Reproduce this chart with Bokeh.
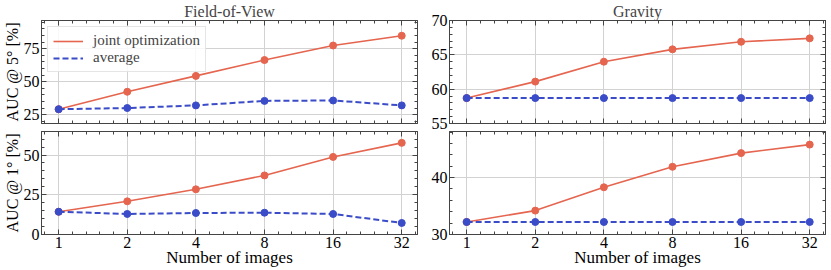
import math
from bokeh.plotting import figure
from bokeh.models import (Range1d, FixedTicker, LogAxis, LinearAxis, NumeralTickFormatter,
                          SingleIntervalTicker, Legend, LegendItem)
from bokeh.layouts import column, row
from bokeh.embed import file_html
from bokeh.resources import INLINE

# ---- data ----
n_images = [1, 2, 4, 8, 16, 32]
x_tick_labels = ["1", "2", "4", "8", "16", "32"]

fov5_joint = [29.2, 42.4, 54.4, 66.4, 77.4, 84.8]
fov5_avg = [29.2, 30.1, 32.1, 35.5, 35.8, 32.1]
fov1_joint = [14.1, 20.7, 28.3, 37.1, 48.8, 57.7]
fov1_avg = [14.1, 12.7, 13.3, 13.5, 12.7, 7.0]
grav5_joint = [58.7, 61.1, 64.0, 65.8, 66.9, 67.4]
grav5_avg = [58.7, 58.7, 58.7, 58.7, 58.7, 58.7]
grav1_joint = [32.2, 34.2, 38.3, 41.9, 44.3, 45.8]
grav1_avg = [32.2, 32.2, 32.2, 32.2, 32.2, 32.2]

RED = "#E5654F"
BLUE = "#3B4CC8"
FONT = "Liberation Serif"
EDGE = "#444444"
GRID = "#d2d2d2"

x_minor = [2 ** (k / 5) for k in range(-1, 27)]


def style_axis(ax, show_labels):
    ax.major_tick_in = 5
    ax.major_tick_out = 0
    ax.minor_tick_in = 3
    ax.minor_tick_out = 0
    ax.axis_line_color = EDGE
    ax.major_tick_line_color = EDGE
    ax.minor_tick_line_color = EDGE
    ax.major_label_text_font = FONT
    ax.major_label_text_color = "black"
    ax.axis_label_text_font = FONT
    ax.axis_label_text_font_style = "normal"
    ax.axis_label_text_font_size = "16px"
    ax.axis_label_text_color = "black"
    if show_labels:
        ax.major_label_text_font_size = "16px"
        ax.major_label_standoff = 2
        ax.axis_label_standoff = 0
    else:
        ax.major_label_text_font_size = "0px"
        ax.major_label_standoff = 0
        ax.major_label_text_alpha = 0


def make_fig(title, ylabel, yr, yint, joint, avg, bottom, fw,
             mb_left, mb_right, mb_top, mb_bottom, legend=False):
    p = figure(frame_width=fw, frame_height=103, x_axis_type="log",
               x_range=Range1d(2 ** -0.25, 2 ** 5.23), y_range=Range1d(*yr),
               output_backend="svg", toolbar_location=None, title=title,
               min_border_left=mb_left, min_border_right=mb_right,
               min_border_top=mb_top, min_border_bottom=mb_bottom)
    xt = FixedTicker(ticks=n_images, minor_ticks=x_minor)
    yt = SingleIntervalTicker(interval=yint, num_minor_ticks=5)
    p.xaxis.ticker = xt
    p.xaxis.formatter = NumeralTickFormatter(format="0")
    p.xaxis.major_label_overrides = {v: s for v, s in zip(n_images, x_tick_labels)}
    p.yaxis.ticker = yt
    p.xgrid.ticker = xt
    p.ygrid.ticker = yt
    style_axis(p.xaxis[0], bottom)
    style_axis(p.yaxis[0], True)
    if bottom:
        p.xaxis.axis_label = "Number of images"
        p.xaxis.axis_label_text_font_size = "17px"
        p.xaxis.axis_label_standoff = -3
    if ylabel:
        p.yaxis.axis_label = ylabel
    top_ax = LogAxis(ticker=xt)
    style_axis(top_ax, False)
    p.add_layout(top_ax, "above")
    right_ax = LinearAxis(ticker=yt)
    style_axis(right_ax, False)
    p.add_layout(right_ax, "right")

    p.xgrid.grid_line_color = GRID
    p.ygrid.grid_line_color = GRID
    p.outline_line_color = EDGE
    p.background_fill_color = "white"
    p.border_fill_color = "white"

    if title:
        p.title.text_font = FONT
        p.title.text_font_style = "normal"
        p.title.text_font_size = "16px"
        p.title.align = "center"
        p.title.standoff = 1
        p.title.offset = 0

    l1 = p.line(n_images, joint, line_color=RED, line_width=1.6)
    p.scatter(n_images, joint, size=7, fill_color=RED, line_color=RED)
    l2 = p.line(n_images, avg, line_color=BLUE, line_width=2, line_dash="6 3")
    p.scatter(n_images, avg, size=7, fill_color=BLUE, line_color=BLUE)

    if legend:
        lg = Legend(items=[LegendItem(label="joint optimization", renderers=[l1]),
                           LegendItem(label="average", renderers=[l2])],
                    location="top_left")
        lg.label_text_font = FONT
        lg.label_text_font_size = "15px"
        lg.glyph_width = 30
        lg.glyph_height = 14
        lg.label_height = 14
        lg.label_standoff = 10
        lg.padding = 5
        lg.spacing = 0
        lg.margin = 6
        lg.border_line_color = "#cccccc"
        lg.background_fill_alpha = 0.85
        p.add_layout(lg)
    return p


p1 = make_fig("Field-of-View", "AUC @ 5° [%]", (18.4, 96.3), 25, fov5_joint, fov5_avg,
              False, 376, 36, 4, 0, 8, legend=True)
p2 = make_fig("Gravity", None, (55, 70), 5, grav5_joint, grav5_avg,
              False, 376, 28, 3, 0, 8)
p3 = make_fig(None, "AUC @ 1° [%]", (-0.3, 64.9), 25, fov1_joint, fov1_avg,
              True, 376, 36, 4, 0, 0)
p4 = make_fig(None, None, (30, 48.1), 10, grav1_joint, grav1_avg,
              True, 376, 28, 3, 0, 0)

layout = column(row(p1, p2), row(p3, p4))
open("out.html", "w").write(file_html(layout, INLINE))
